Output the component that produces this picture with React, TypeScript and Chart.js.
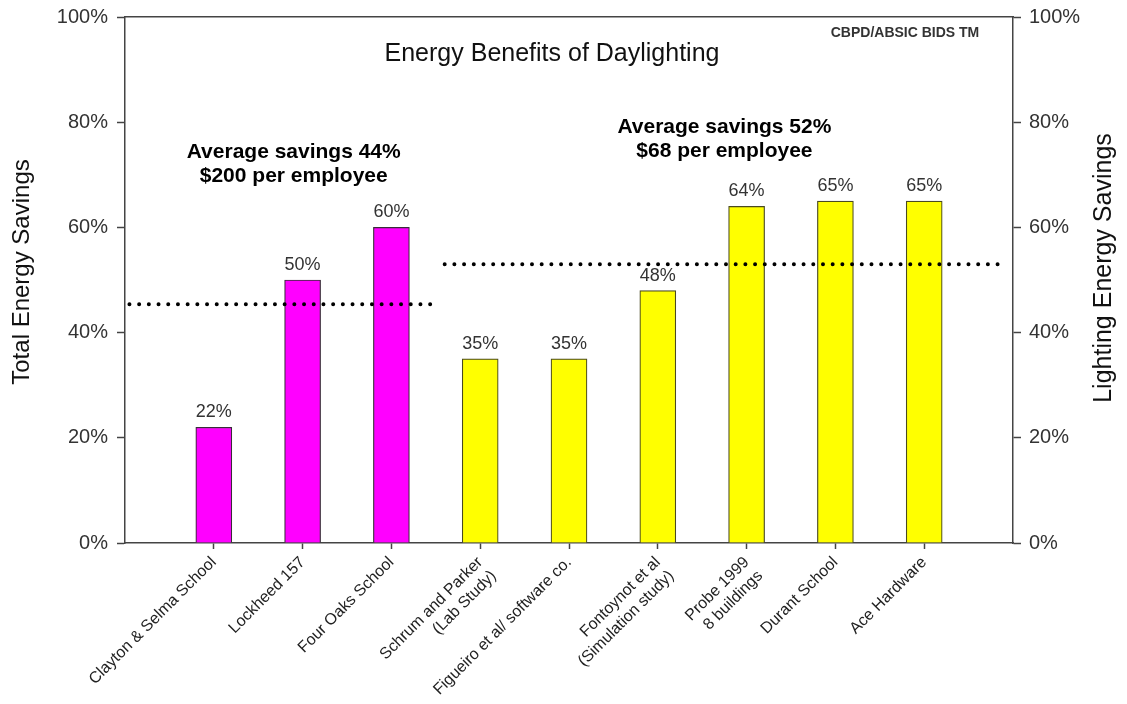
import React, { useEffect, useRef } from 'react';
import { Chart, registerables } from 'chart.js';

Chart.register(...registerables);

// ---------- data ----------
const categories: (string | string[])[] = [
  'Clayton & Selma School',
  'Lockheed 157',
  'Four Oaks School',
  ['Schrum and Parker', '(Lab Study)'],
  'Figueiro et al/ software co.',
  ['Fontoynot et al', '(Simulation study)'],
  ['Probe 1999', '8 buildings'],
  'Durant School',
  'Ace Hardware',
];
const savings = [22, 50, 60, 35, 35, 48, 64, 65, 65];
const savingsKind = ['total', 'total', 'total', 'lighting', 'lighting', 'lighting', 'lighting', 'lighting', 'lighting'];
const yTickValues = [0, 20, 40, 60, 80, 100];
const totalAvgLine = [
  { x: 0.05, y: 45.4 },
  { x: 3.52, y: 45.4 },
];
const lightingAvgLine = [
  { x: 3.6, y: 53 },
  { x: 9.83, y: 53 },
];
const totalNote = ['Average savings 44%', '$200 per employee'];
const lightingNote = ['Average savings 52%', '$68 per employee'];
const chartTitle = 'Energy Benefits of Daylighting';
const creditText = 'CBPD/ABSIC BIDS TM';
const leftAxisTitle = 'Total Energy Savings';
const rightAxisTitle = 'Lighting Energy Savings';

const FONT = '"Liberation Sans", Arial, Helvetica, sans-serif';
const kindColor: Record<string, string> = { total: '#FF00FF', lighting: '#FFFF00' };
const kindBorder: Record<string, string> = { total: '#3a2a3a', lighting: '#4a4a20' };

const textPlugin = {
  id: 'textPlugin',
  afterDatasetsDraw(chart: any) {
    const { ctx, chartArea, scales } = chart;
    const xs = scales.x;
    const ys = scales.y;
    ctx.save();
    // value labels above bars
    const meta = chart.getDatasetMeta(0);
    ctx.font = `18px ${FONT}`;
    ctx.fillStyle = '#333';
    ctx.textAlign = 'center';
    ctx.textBaseline = 'alphabetic';
    meta.data.forEach((bar: any, i: number) => {
      ctx.fillText(`${savings[i]}%`, bar.x, bar.y - 10);
    });

    // title
    ctx.fillStyle = '#111';
    ctx.font = `25px ${FONT}`;
    ctx.textBaseline = 'middle';
    ctx.fillText(chartTitle, (chartArea.left + chartArea.right) / 2 - 17, 54);

    // credit
    ctx.font = `bold 14px ${FONT}`;
    ctx.fillStyle = '#333';
    ctx.fillText(creditText, chartArea.right - 108, 33);

    // notes
    ctx.font = `bold 21px ${FONT}`;
    ctx.fillStyle = '#000';
    const drawNote = (lines: string[], xv: number, yv: number) => {
      const px = xs.getPixelForValue(xv);
      const py = ys.getPixelForValue(yv);
      lines.forEach((l, k) => ctx.fillText(l, px, py + k * 24));
    };
    drawNote(totalNote, 1.9, 74.3);
    drawNote(lightingNote, 6.75, 79.1);
    ctx.restore();
  },
  afterDraw(chart: any) {
    const { ctx, chartArea } = chart;
    const cy = (chartArea.top + chartArea.bottom) / 2;
    ctx.save();
    ctx.fillStyle = '#111';
    ctx.font = `24px ${FONT}`;
    ctx.textAlign = 'center';
    ctx.textBaseline = 'middle';
    ctx.translate(22, cy - 8);
    ctx.rotate(-Math.PI / 2);
    ctx.fillText(leftAxisTitle, 0, 0);
    ctx.restore();

    ctx.save();
    ctx.fillStyle = '#111';
    ctx.font = `25px ${FONT}`;
    ctx.textAlign = 'center';
    ctx.textBaseline = 'middle';
    ctx.translate(chartArea.right + 91, cy - 12);
    ctx.rotate(-Math.PI / 2);
    ctx.fillText(rightAxisTitle, 0, 0);
    ctx.restore();
  },
};

export default function App() {
  const ref = useRef<HTMLCanvasElement | null>(null);
  useEffect(() => {
    if (!ref.current) return;
    const pct = (v: any) => `${v}%`;
    const yAxisCommon = {
      type: 'linear',
      min: 0,
      max: 100,
      afterBuildTicks: (s: any) => {
        s.ticks = yTickValues.map((v) => ({ value: v }));
      },
      ticks: { callback: pct, color: '#333', font: { size: 20, family: FONT }, padding: 9 },
      grid: { display: true, drawOnChartArea: false, drawTicks: true, tickLength: 8, color: '#444', tickWidth: 1.5 },
      border: { display: true, color: '#444', width: 1.5 },
    };
    const chart = new Chart(ref.current, {
      type: 'bar',
      data: {
        datasets: [
          {
            type: 'bar',
            data: savings.map((v, i) => ({ x: i + 1, y: v })),
            backgroundColor: savingsKind.map((k) => kindColor[k]),
            borderColor: savingsKind.map((k) => kindBorder[k]),
            borderWidth: 1.2,
            barThickness: 36,
            order: 2,
            xAxisID: 'x',
            yAxisID: 'y',
          } as any,
          {
            type: 'line',
            data: totalAvgLine,
            borderColor: '#000',
            borderWidth: 4,
            borderDash: [0, 9.7],
            borderCapStyle: 'round',
            pointRadius: 0,
            fill: false,
            order: 1,
            xAxisID: 'x',
            yAxisID: 'y',
          } as any,
          {
            type: 'line',
            data: lightingAvgLine,
            borderColor: '#000',
            borderWidth: 4,
            borderDash: [0, 9.7],
            borderCapStyle: 'round',
            pointRadius: 0,
            fill: false,
            order: 1,
            xAxisID: 'x',
            yAxisID: 'y',
          } as any,
        ],
      },
      options: {
        responsive: false,
        animation: false,
        layout: { padding: 0 },
        plugins: { legend: { display: false }, tooltip: { enabled: false }, title: { display: false } },
        scales: {
          x: {
            type: 'linear',
            position: 'bottom',
            min: 0,
            max: 10,
            offset: false,
            afterBuildTicks: (s: any) => {
              s.ticks = categories.map((_, i) => ({ value: i + 1 }));
            },
            afterFit: (s: any) => {
              s.height = 161;
              s.paddingLeft = 0;
              s.paddingRight = 0;
            },
            ticks: {
              autoSkip: false,
              minRotation: 45,
              maxRotation: 45,
              padding: 4,
              color: '#222',
              font: { size: 16, family: FONT },
              callback: (v: any) => categories[Math.round(v) - 1] ?? '',
            },
            grid: { display: true, offset: false, drawOnChartArea: false, tickLength: 6, color: '#444', tickWidth: 1.5 },
            border: { display: true, color: '#444', width: 1.5 },
          },
          xTop: {
            type: 'linear',
            position: 'top',
            min: 0,
            max: 10,
            offset: false,
            ticks: { display: false },
            grid: { display: false },
            border: { display: true, color: '#444', width: 1.5 },
            afterFit: (s: any) => {
              s.height = 17;
              s.paddingLeft = 0;
              s.paddingRight = 0;
            },
          },
          y: {
            ...yAxisCommon,
            position: 'left',
            afterFit: (s: any) => {
              s.width = 125;
              s.paddingTop = 0;
              s.paddingBottom = 0;
            },
          },
          y2: {
            ...yAxisCommon,
            position: 'right',
            ticks: { ...yAxisCommon.ticks, padding: 8 },
            afterFit: (s: any) => {
              s.width = 114;
              s.paddingTop = 0;
              s.paddingBottom = 0;
            },
          },
        } as any,
      },
      plugins: [textPlugin],
    } as any);
    return () => chart.destroy();
  }, []);

  return (
    <div style={{ position: 'fixed', left: 0, top: 0, width: 1127, height: 704, background: '#fff' }}>
      <canvas ref={ref} width={1127} height={704} style={{ display: 'block' }} />
    </div>
  );
}
